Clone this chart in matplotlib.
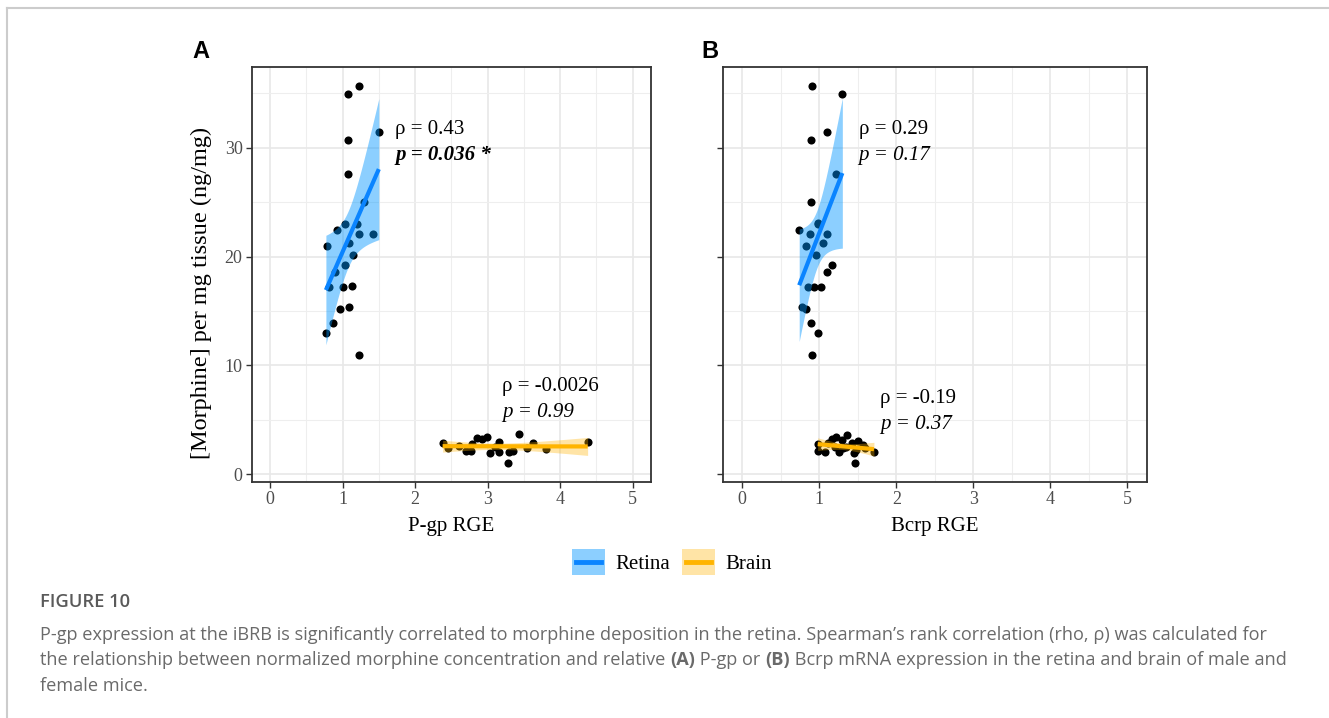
import numpy as np
import matplotlib
matplotlib.use('Agg')
import matplotlib.pyplot as plt
from matplotlib.patches import Rectangle
from matplotlib.lines import Line2D
from matplotlib.legend_handler import HandlerBase
from matplotlib.ticker import MultipleLocator

plt.rcParams['font.family'] = ['Liberation Serif', 'DejaVu Serif']

# ---- data ----
# panel A: P-gp RGE
pgp_retina_x = [1.22, 1.08, 1.50, 1.07, 1.07, 1.30, 1.03, 0.92, 1.20, 1.23, 1.42, 0.78,
                1.09, 1.14, 1.04, 0.90, 0.81, 1.00, 1.13, 0.96, 1.09, 0.87, 0.77, 1.23]
pgp_retina_y = [35.7, 34.9, 31.4, 30.7, 27.6, 25.0, 23.0, 22.4, 23.0, 22.1, 22.1, 21.0,
                21.2, 20.1, 19.2, 18.6, 17.2, 17.2, 17.3, 15.2, 15.4, 13.9, 13.0, 11.0]
pgp_brain_x = [2.38, 2.46, 2.60, 2.70, 2.77, 2.78, 2.86, 2.93, 2.99, 3.04, 3.10, 3.16,
               3.16, 3.28, 3.30, 3.35, 3.43, 3.55, 3.63, 3.81, 4.38]
pgp_brain_y = [2.85, 2.45, 2.63, 2.17, 2.17, 2.79, 3.31, 3.24, 3.46, 1.93, 2.54, 3.00,
               2.08, 1.01, 2.08, 2.17, 3.67, 2.39, 2.85, 2.30, 2.94]

# panel B: Bcrp RGE
bcrp_retina_x = [0.91, 1.30, 1.10, 0.89, 1.22, 0.89, 0.98, 0.99, 0.74, 0.88, 1.10, 0.83,
                 1.05, 0.96, 1.16, 1.10, 0.86, 0.93, 1.02, 0.77, 0.83, 0.89, 0.98, 0.90]
bcrp_retina_y = [35.7, 34.9, 31.4, 30.7, 27.6, 25.0, 23.0, 23.1, 22.4, 22.1, 22.1, 21.0,
                 21.2, 20.1, 19.2, 18.6, 17.2, 17.2, 17.2, 15.4, 15.2, 13.9, 13.0, 11.0]
bcrp_brain_x = [0.98, 0.98, 1.07, 1.11, 1.16, 1.20, 1.22, 1.26, 1.29, 1.31, 1.35, 1.36,
                1.42, 1.45, 1.47, 1.48, 1.50, 1.57, 1.59, 1.71]
bcrp_brain_y = [2.79, 2.17, 2.08, 2.85, 3.24, 2.54, 3.46, 2.08, 3.15, 2.39, 2.54, 3.61,
                2.85, 1.93, 1.01, 2.23, 3.06, 2.69, 2.39, 2.02]

labels_a = [('ρ = 0.43', 'p = 0.036 *', True), ('ρ = -0.0026', 'p = 0.99', False)]
labels_b = [('ρ = 0.29', 'p = 0.17', False), ('ρ = -0.19', 'p = 0.37', False)]

retina_line = '#0A84FF'
retina_fill = '#0096FF'
brain_line = '#FFB400'
brain_fill = '#FFB400'


def t_quantile(df):
    # 97.5% quantile of Student t, series approximation
    z = 1.959964
    return (z + (z**3 + z) / (4 * df) + (5 * z**5 + 16 * z**3 + 3 * z) / (96 * df**2)
            + (3 * z**7 + 19 * z**5 + 17 * z**3 - 15 * z) / (384 * df**3))


def smooth(ax, x, y, lc, fc, falpha):
    # lm fit + 95% confidence band, like geom_smooth(method='lm')
    x = np.asarray(x); y = np.asarray(y)
    n = len(x)
    b, a = np.polyfit(x, y, 1)
    xs = np.linspace(x.min(), x.max(), 100)
    yh = a + b * xs
    s = np.sqrt(np.sum((y - (a + b * x))**2) / (n - 2))
    se = s * np.sqrt(1 / n + (xs - x.mean())**2 / np.sum((x - x.mean())**2))
    t = t_quantile(n - 2)
    ax.fill_between(xs, yh - t * se, yh + t * se, color=fc, alpha=falpha, lw=0, zorder=4)
    ax.plot(xs, yh, color=lc, lw=3, zorder=5, solid_capstyle='butt')


def style(ax, show_ylabels):
    ax.set_xlim(-0.245, 5.25)
    ax.set_ylim(-0.68, 37.43)
    ax.xaxis.set_major_locator(MultipleLocator(1))
    ax.xaxis.set_minor_locator(MultipleLocator(0.5))
    ax.yaxis.set_major_locator(MultipleLocator(10))
    ax.yaxis.set_minor_locator(MultipleLocator(5))
    ax.grid(which='major', color='#E8E8E8', lw=1.2, zorder=0)
    ax.grid(which='minor', color='#EEEEEE', lw=0.8, zorder=0)
    ax.set_axisbelow(True)
    for sp in ax.spines.values():
        sp.set_color('#333333')
        sp.set_linewidth(1.3)
    ax.tick_params(which='major', length=4, width=1.0, color='#333333',
                   labelsize=13, labelcolor='#4D4D4D', pad=3)
    ax.tick_params(which='minor', length=0)
    if not show_ylabels:
        ax.set_yticklabels([])


class RibbonKey(HandlerBase):
    # filled box with the fit line across it
    def __init__(self, fc, lc, falpha):
        super().__init__()
        self.fc, self.lc, self.falpha = fc, lc, falpha

    def create_artists(self, legend, orig_handle, xdescent, ydescent, width, height,
                       fontsize, trans):
        box = Rectangle((-xdescent, -ydescent), width, height, facecolor=self.fc,
                        alpha=self.falpha, lw=0, transform=trans)
        ln = Line2D([-xdescent + 0.12 * width, -xdescent + 0.88 * width],
                    [height / 2 - ydescent] * 2, color=self.lc, lw=3.5, transform=trans)
        return [box, ln]


fig = plt.figure(figsize=(13.29, 7.18), dpi=100)

# page frame
fig.add_artist(Line2D([7 / 1329, 1], [1 - 7.5 / 718] * 2, color='#CCCCCC', lw=1.5))
fig.add_artist(Line2D([7 / 1329] * 2, [0, 1 - 7.5 / 718], color='#CCCCCC', lw=1.5))

axA = fig.add_axes([252.3 / 1329, 1 - 481.7 / 718, 398.4 / 1329, 415 / 718])
axB = fig.add_axes([723.3 / 1329, 1 - 481.7 / 718, 423.4 / 1329, 415 / 718])

panels = [
    (axA, pgp_retina_x, pgp_retina_y, pgp_brain_x, pgp_brain_y, labels_a,
     [(1.73, 31.7), (3.20, 8.05)], 'P-gp RGE'),
    (axB, bcrp_retina_x, bcrp_retina_y, bcrp_brain_x, bcrp_brain_y, labels_b,
     [(1.51, 31.7), (1.79, 7.0)], 'Bcrp RGE'),
]

for ax, rx, ry, bx, by, labs, pos, xl in panels:
    style(ax, ax is axA)
    ax.scatter(rx, ry, s=34, color='black', lw=0, zorder=3)
    ax.scatter(bx, by, s=34, color='black', lw=0, zorder=3)
    smooth(ax, rx, ry, retina_line, retina_fill, 0.45)
    smooth(ax, bx, by, brain_line, brain_fill, 0.35)
    for (rho, p, sig), (tx, ty) in zip(labs, pos):
        ax.text(tx, ty, rho, fontsize=15, ha='left', va='center', zorder=6)
        ax.text(tx, ty - 2.4, p, fontsize=15, ha='left', va='center', style='italic',
                fontweight='bold' if sig else 'normal', zorder=6)
    ax.set_xlabel(xl, fontsize=15, labelpad=6)

fig.text(201 / 1329, 1 - 52 / 718, 'A', fontsize=17, fontweight='bold',
         family='Liberation Sans', ha='center', va='center')
fig.text(710 / 1329, 1 - 52 / 718, 'B', fontsize=17, fontweight='bold',
         family='Liberation Sans', ha='center', va='center')

axA.set_ylabel('[Morphine] per mg tissue (ng/mg)', fontsize=17.5)
axA.yaxis.set_label_coords((212 - 252.3) / 398.4, (481.7 - 292.5) / 415)

# legend
fig.legend(['k1', 'k2'], ['Retina', 'Brain'], loc='center', ncol=2,
           bbox_to_anchor=(672 / 1329, 1 - 562 / 718), frameon=False, fontsize=15,
           handler_map={'k1': RibbonKey(retina_fill, retina_line, 0.45),
                        'k2': RibbonKey(brain_fill, brain_line, 0.35)},
           handlelength=1.59, handleheight=1.54, handletextpad=0.53, columnspacing=0.53)

# caption
cap_font = ['Open Sans', 'DejaVu Sans']
cap_col = '#6A6A6A'
cap_size = 13.05
fig.text(40 / 1329, 1 - 602 / 718, 'FIGURE 10', fontsize=13.2, fontweight='semibold',
         color='#5A5A5A', family=cap_font, va='center')
fig.text(40 / 1329, 1 - 635 / 718,
         'P-gp expression at the iBRB is significantly correlated to morphine deposition in the retina. '
         'Spearman\u2019s rank correlation (rho, \u03c1) was calculated for',
         fontsize=cap_size, color=cap_col, family=cap_font, va='center')

# second caption line has bold panel refs, so it is built from pieces
pieces = [('the relationship between normalized morphine concentration and relative ', 'normal'),
          ('(A)', 'bold'), (' P-gp or ', 'normal'), ('(B)', 'bold'),
          (' Bcrp mRNA expression in the retina and brain of male and', 'normal')]
cap_texts = []
for txt, w in pieces:
    cap_texts.append(fig.text(40 / 1329, 1 - 660 / 718, txt, fontsize=cap_size, color=cap_col,
                              family=cap_font, fontweight=w, va='center', ha='left'))
fig.canvas.draw()
r = fig.canvas.get_renderer()
for prev, cur in zip(cap_texts[:-1], cap_texts[1:]):
    bb = prev.get_window_extent(r)
    x1 = fig.transFigure.inverted().transform((bb.x1, bb.y0))[0]
    cur.set_position((x1, 1 - 660 / 718))

fig.text(40 / 1329, 1 - 686 / 718, 'female mice.', fontsize=cap_size, color=cap_col,
         family=cap_font, va='center')

fig.savefig('out.png', dpi=100, facecolor='white')
